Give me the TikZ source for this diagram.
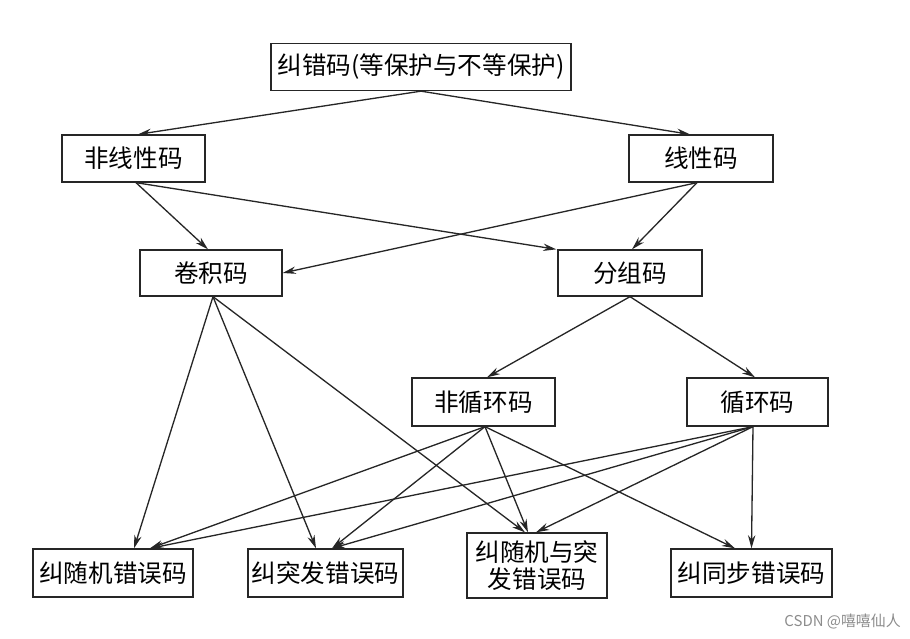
\documentclass[tikz,border=0pt]{standalone}
\usepackage{fontspec}
\setmainfont{Noto Sans CJK SC}
\usetikzlibrary{arrows.meta}

\begin{document}
\begin{tikzpicture}[x=0.02cm, y=-0.02cm, >={Stealth[length=7.5pt,width=4.2pt]},
        box/.style={draw=black!85, line width=0.75pt, inner sep=0pt,
            minimum width=2.86cm, minimum height=0.94cm,
            font=\fontsize{14}{15}\selectfont},
        leafbox/.style={box, minimum width=3.18cm, minimum height=0.96cm},
        edge/.style={->, draw=black!85, line width=0.75pt}]
        \useasboundingbox (0,0) rectangle (910,639);

        % Radice
        \node[box, minimum width=6.0cm] (ecc) at (421,67) {纠错码(等保护与不等保护)};

        % Lineare / non lineare
        \node[box] (nonlin) at (133.5,158.5) {非线性码};
        \node[box, minimum width=2.88cm] (lin) at (701,158.5) {线性码};

        % Convoluzionali / a blocchi
        \node[box, minimum width=2.84cm, minimum height=0.92cm] (conv) at (211,273) {卷积码};
        \node[box, minimum width=2.88cm, minimum height=0.92cm] (block) at (630,273) {分组码};

        % Ciclici / non ciclici
        \node[box, minimum height=0.96cm] (noncyc) at (483.5,402) {非循环码};
        \node[box, minimum width=2.82cm, minimum height=0.96cm] (cyc) at (757.5,402) {循环码};

        % Foglie
        \node[leafbox, minimum width=3.2cm] (random) at (113,573) {纠随机错误码};
        \node[leafbox, minimum width=3.1cm] (burst) at (325.5,573) {纠突发错误码};
        \node[leafbox, minimum width=2.8cm, minimum height=1.3cm, align=center] (mixed) at (537,565.5)
            {纠随机与突\\发错误码};
        \node[leafbox, minimum width=3.22cm] (sync) at (751.5,573) {纠同步错误码};

        % Frecce dai livelli superiori
        \draw[edge] (ecc.south) -- ([xshift=0.09cm]nonlin.north);
        \draw[edge] (ecc.south) -- ([xshift=-0.22cm]lin.north);
        \draw[edge] ([xshift=0.05cm]nonlin.south) -- ([xshift=-0.06cm]conv.north);
        \draw[edge] ([xshift=0.05cm]nonlin.south) -- ([xshift=-0.02cm]block.north west);
        \draw[edge] ([xshift=-0.08cm]lin.south) -- ([xshift=0.04cm]block.north);
        \draw[edge] ([xshift=-0.08cm]lin.south) -- (conv.east);
        \draw[edge] (block.south) -- ([xshift=0.07cm]noncyc.north);
        \draw[edge] (block.south) -- ([xshift=-0.05cm]cyc.north);

        % Frecce verso le foglie
        \draw[edge] ([xshift=0.04cm]conv.south) -- ([xshift=0.42cm]random.north);
        \draw[edge] ([xshift=0.04cm]conv.south) -- ([xshift=-0.19cm]burst.north);
        \draw[edge] ([xshift=0.04cm]conv.south) -- ([xshift=-0.24cm]mixed.north);

        \draw[edge] ([xshift=0.03cm]noncyc.south) -- ([xshift=0.74cm]random.north);
        \draw[edge] ([xshift=0.03cm]noncyc.south) -- ([xshift=0.13cm]burst.north);
        \draw[edge] ([xshift=0.03cm]noncyc.south) -- ([xshift=-0.18cm]mixed.north);
        \draw[edge] ([xshift=0.03cm]noncyc.south) -- ([xshift=-0.33cm]sync.north);

        \draw[edge] ([xshift=-0.09cm]cyc.south) -- ([xshift=0.74cm]random.north);
        \draw[edge] ([xshift=-0.09cm]cyc.south) -- ([xshift=0.13cm]burst.north);
        \draw[edge] ([xshift=-0.09cm]cyc.south) -- ([xshift=-0.02cm]mixed.north);
        \draw[edge] ([xshift=-0.09cm]cyc.south) -- (sync.north);

        % Filigrana
        \node[text=black!45, font=\fontsize{8.5}{10}\selectfont, anchor=east] (mark) at (907,622) {CSDN @嘻嘻仙人};

    \end{tikzpicture}
\end{document}
